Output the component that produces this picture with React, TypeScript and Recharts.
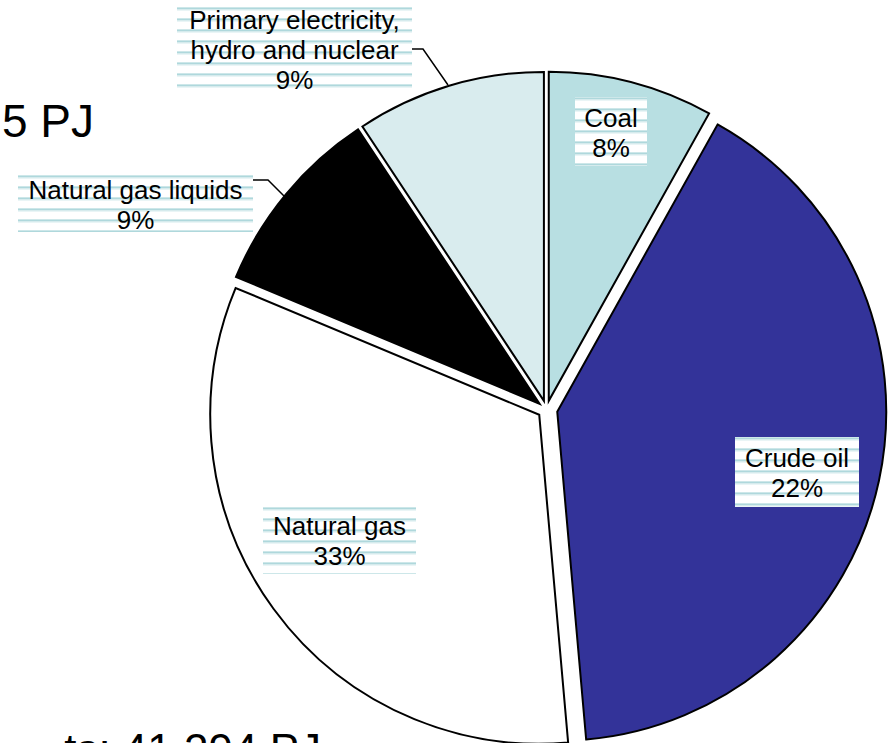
import React from 'react';
import { PieChart, Pie, Cell, Sector } from 'recharts';

const sources = [
  'Coal',
  'Crude oil',
  'Natural gas',
  'Natural gas liquids',
  'Primary electricity, hydro and nuclear',
];
const shares = [8.1, 40.5, 32.7, 9.4, 9.3];
// label text as printed on the chart
const labelNames = [
  ['Coal'],
  ['Crude oil'],
  ['Natural gas'],
  ['Natural gas liquids'],
  ['Primary electricity,', 'hydro and nuclear'],
];
const labelPercents = ['8%', '22%', '33%', '9%', '9%'];
const topTitle = '5 PJ';
const bottomTitle = 'ts: 41 294 PJ';

const data = sources.map((name, i) => ({ name, value: shares[i] }));

const COLORS = ['#B8DFE2', '#333399', '#FFFFFF', '#000000', '#D9ECEE'];
const EXPLODE = [9, 11, 9, 9, 9];

// label boxes (x, y, w, h, first baseline)
const BOXES = [
  { x: 575, y: 97, w: 72, h: 69, base: 127 },
  { x: 735, y: 437, w: 124, h: 70, base: 467 },
  { x: 263, y: 507, w: 153, h: 67, base: 535 },
  { x: 18, y: 175, w: 235, h: 57, base: 199 },
  { x: 177, y: 7, w: 235, h: 88, base: 29 },
];
const LEADERS: Record<number, string> = {
  3: '253,180 268,180 284,196',
  4: '412,49 423,49 448,85',
};

const FONT = '"Liberation Sans", Arial, sans-serif';

const ExplodedSector = (props: any) => {
  const { cx, cy, midAngle, name } = props;
  const i = sources.indexOf(name);
  const d = EXPLODE[i] ?? 0;
  const rad = (-midAngle * Math.PI) / 180;
  return (
    <Sector
      {...props}
      cx={cx + d * Math.cos(rad)}
      cy={cy + d * Math.sin(rad)}
      stroke="#000"
      strokeWidth={2}
    />
  );
};

const renderLabel = (props: any) => {
  const { index } = props;
  const b = BOXES[index];
  const lines = [...labelNames[index], labelPercents[index]];
  const cxText = b.x + b.w / 2;
  const pid = `stripes-${index}`;
  return (
    <g key={`lbl-${index}`}>
      <defs>
        <pattern id={pid} x={0} y={b.y} width={10} height={11} patternUnits="userSpaceOnUse">
          <rect x={0} y={0} width={10} height={11} fill="#FFFFFF" />
          <rect x={0} y={0} width={10} height={1} fill="#CDE7E9" />
          <rect x={0} y={1} width={10} height={1.5} fill="#AFD8DC" />
          <rect x={0} y={2.5} width={10} height={1} fill="#D6ECEE" />
        </pattern>
      </defs>
      <rect x={b.x} y={b.y} width={b.w} height={b.h} fill={`url(#${pid})`} />
      {LEADERS[index] && (
        <polyline points={LEADERS[index]} fill="none" stroke="#000" strokeWidth={1.5} />
      )}
      {lines.map((t, k) => (
        <text
          key={k}
          x={cxText}
          y={b.base + k * 30}
          textAnchor="middle"
          fontFamily={FONT}
          fontSize={26}
          fill="#000"
        >
          {t}
        </text>
      ))}
    </g>
  );
};

export default function App() {
  return (
    <div style={{ width: 890, height: 743, overflow: 'hidden', background: '#fff' }}>
      <style>{'body{margin:0}'}</style>
      <PieChart width={890} height={743} margin={{ top: 0, right: 0, bottom: 0, left: 0 }}>
        <text x={94} y={137} textAnchor="end" fontFamily={FONT} fontSize={46} fill="#000">
          {topTitle}
        </text>
        <text x={321} y={765} textAnchor="end" fontFamily={FONT} fontSize={44} fill="#000">
          {bottomTitle}
        </text>
        <Pie
          data={data}
          dataKey="value"
          nameKey="name"
          cx={546.5}
          cy={409.5}
          outerRadius={329}
          startAngle={90}
          endAngle={-270}
          stroke="#000"
          strokeWidth={2}
          shape={ExplodedSector}
          activeShape={ExplodedSector}
          inactiveShape={ExplodedSector}
          label={renderLabel}
          labelLine={false}
          isAnimationActive={false}
        >
          {data.map((d, i) => (
            <Cell key={d.name} fill={COLORS[i]} />
          ))}
        </Pie>
      </PieChart>
    </div>
  );
}
